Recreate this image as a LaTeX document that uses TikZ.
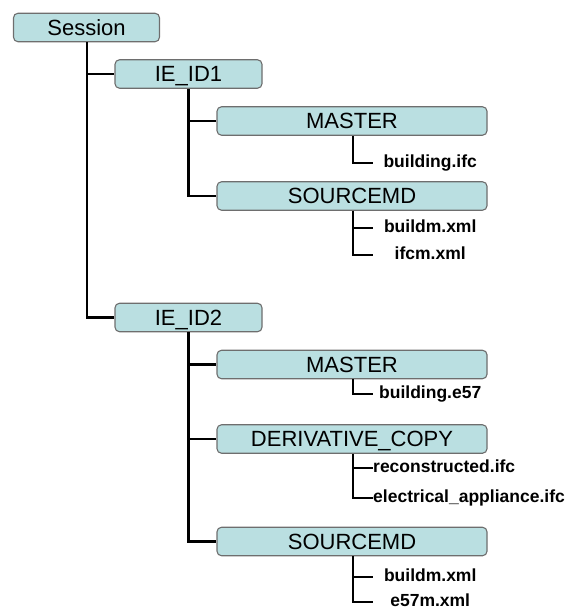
\documentclass[tikz,border=0pt]{standalone}
\usepackage{fontspec}
\setmainfont{Liberation Sans}
\begin{document}
\begin{tikzpicture}[x=1pt,y=-1pt,
  box/.style={draw=boxedge, line width=1.1pt, fill=boxfill, rounded corners=4.5pt,
    minimum height=28.5pt, inner sep=0pt, font=\fontsize{22}{24}\selectfont,
    text height=15.8pt, text depth=0pt},
  smallbox/.style={box, minimum width=147pt},
  widebox/.style={box, minimum width=270pt},
  file/.style={anchor=west, inner sep=0pt, font=\fontsize{17.5}{19}\bfseries,
    text height=12.8pt, text depth=3.7pt},
  cfile/.style={file, text width=114pt, align=center},
  link/.style={line width=2.4pt, black}]
\definecolor{boxfill}{HTML}{BADFE1}
\definecolor{boxedge}{HTML}{6E6E6E}
\useasboundingbox (0,0) rectangle (568,609);

% tree boxes
\node[box, minimum width=146pt] (session) at (86.5,27.5) {Session};
\node[smallbox] (ie1) at (188.5,74) {IE\_ID1};
\node[widebox] (m1) at (352,121) {MASTER};
\node[widebox] (s1) at (352,196) {SOURCEMD};
\node[smallbox] (ie2) at (188.5,317.5) {IE\_ID2};
\node[widebox] (m2) at (352,364.5) {MASTER};
\node[widebox] (d2) at (352,439) {DERIVATIVE\_COPY};
\node[widebox] (s2) at (352,541.5) {SOURCEMD};

% file names
\node[cfile] (f1) at (373,163) {building.ifc};
\node[cfile] (f2) at (373,228) {buildm.xml};
\node[cfile] (f3) at (373,255) {ifcm.xml};
\node[cfile] (f4) at (373,394) {building.e57};
\node[file] (f5) at (373,468) {reconstructed.ifc};
\node[file] (f6) at (373,498) {electrical\_appliance.ifc};
\node[cfile] (f7) at (373,577) {buildm.xml};
\node[cfile] (f8) at (373,602) {e57m.xml};

% connectors
\begin{scope}[link]
\draw ([xshift=0.5pt]session.south) |- (ie1.west);
\draw ([xshift=0.5pt]session.south) |- (ie2.west);
\draw (ie1.south) |- (m1.west);
\draw (ie1.south) |- (s1.west);
\draw (ie2.south) |- (m2.west);
\draw (ie2.south) |- (d2.west);
\draw (ie2.south) |- (s2.west);
\draw ([xshift=1pt]m1.south) |- (f1.west);
\draw ([xshift=1pt]s1.south) |- (f2.west);
\draw ([xshift=1pt]s1.south) |- (f3.west);
\draw ([xshift=1pt]m2.south) |- (f4.west);
\draw ([xshift=1pt]d2.south) |- (f5.west);
\draw ([xshift=1pt]d2.south) |- (f6.west);
\draw ([xshift=1pt]s2.south) |- (f7.west);
\draw ([xshift=1pt]s2.south) |- (f8.west);
\end{scope}
\end{tikzpicture}
\end{document}
